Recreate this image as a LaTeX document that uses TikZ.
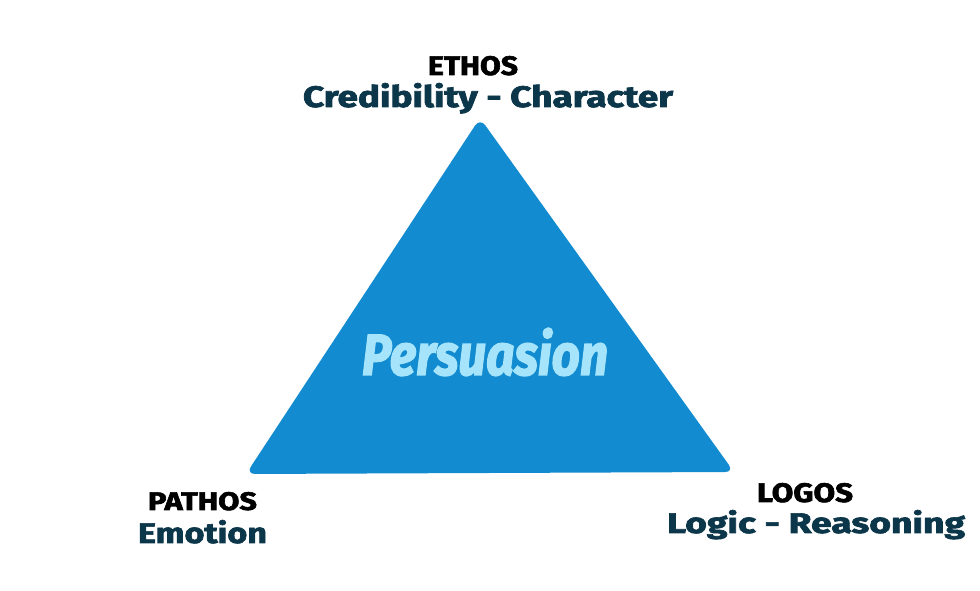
\documentclass[tikz,border=0pt]{standalone}
\usepackage{fontspec}
\setmainfont{Fira Sans}
\newfontfamily\heavyfont{Fira Sans Bold}[FakeBold=2.2]
\newfontfamily\heavyital{Fira Sans Bold Italic}[FakeBold=2.5]
\usepackage{graphicx}
\definecolor{triblue}{HTML}{128BD0}
\definecolor{darkteal}{HTML}{0C3649}
\definecolor{paleblue}{HTML}{A5E4FA}
\begin{document}
\begin{tikzpicture}[x=1pt,y=1pt,
  lbl/.style={anchor=base west,inner sep=0pt,outer sep=0pt,font=\heavyfont},
  head/.style={lbl,text=black},
  sub/.style={lbl,text=darkteal}]
\useasboundingbox (0,0) rectangle (980,591);
% triangle (y = 591 - pixel y)
\coordinate (T) at (480,591-118);
\coordinate (L) at (246,591-474);
\coordinate (R) at (734,591-472);
\fill[triblue,rounded corners=9pt] (T) -- (R) -- (L) -- cycle;
\node[lbl,text=paleblue,font=\heavyital] (pers) at (362,591-375) {\resizebox{246pt}{47pt}{Persuasion}};
\node[head] (ethos) at (428,591-75) {\resizebox{90pt}{19pt}{ETHOS}};
\node[sub] (cred) at (303,591-107) {\resizebox{370pt}{24pt}{Credibility - Character}};
\node[head] (pathos) at (148,591-510) {\resizebox{109pt}{18pt}{PATHOS}};
\node[sub] (emo) at (138,591-543) {\resizebox{129pt}{23pt}{Emotion}};
\node[head] (logos) at (757,591-502) {\resizebox{96pt}{19pt}{LOGOS}};
\node[sub] (logic) at (667,591-533) {\resizebox{298pt}{23pt}{Logic - Reasoning}};
\end{tikzpicture}
\end{document}
